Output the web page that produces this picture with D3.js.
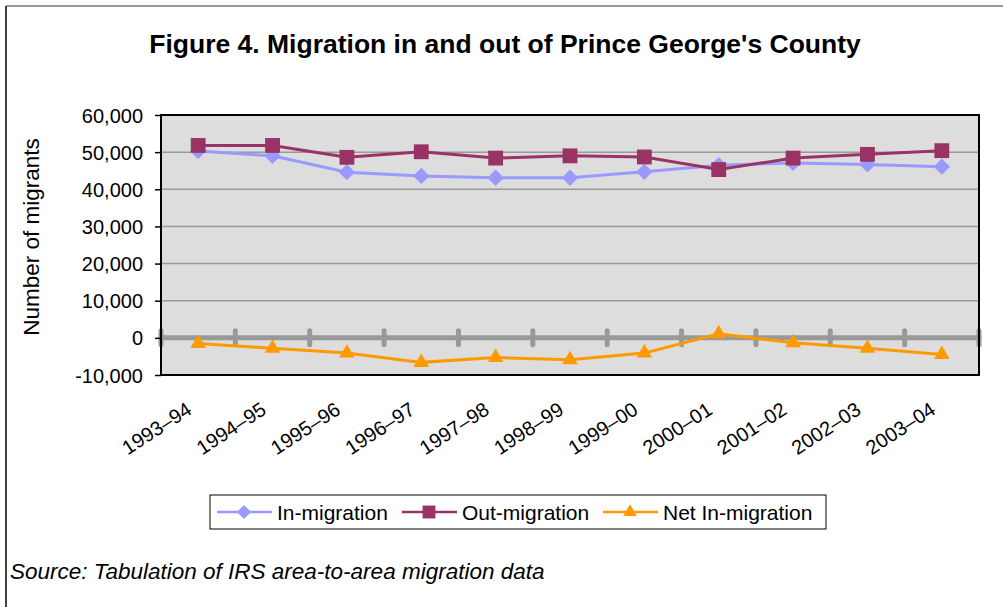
<!DOCTYPE html>
<html>
<head>
<meta charset="utf-8">
<script src="https://cdn.jsdelivr.net/npm/d3@7"></script>
<style>
  body { margin: 0; background: #fff; }
  text { font-family: "Liberation Sans", Arial, sans-serif; fill: #000; }
</style>
</head>
<body>
<div id="chart"></div>
<script>
const categories = ['1993–94', '1994–95', '1995–96', '1996–97', '1997–98', '1998–99',
    '1999–00', '2000–01', '2001–02', '2002–03', '2003–04'];
const inMigration = [50300, 49000, 44600, 43600, 43100, 43100, 44700, 46500, 47100, 46700, 46100];
const outMigration = [51800, 51800, 48600, 50100, 48400, 49000, 48700, 45300, 48400, 49400, 50400];
const netMigration = [-1500, -2800, -4100, -6600, -5300, -5900, -4100, 1100, -1300, -2800, -4500];
const yTicks = [-10000, 0, 10000, 20000, 30000, 40000, 50000, 60000];

const width = 1003;
const height = 607;
const plot = {left: 161, right: 979, top: 115, bottom: 375};

const series = [
    {name: 'In-migration', values: inMigration, color: '#9999ff', symbol: d3.symbolDiamond2, size: 170},
    {name: 'Out-migration', values: outMigration, color: '#993366', symbol: d3.symbolSquare2, size: 280},
    {name: 'Net In-migration', values: netMigration, color: '#ff9900', symbol: d3.symbolTriangle2, size: 175},
];

const svg = d3.select('#chart').append('svg')
    .attr('width', width)
    .attr('height', height);

// outer frame (only top and left show in the picture)
svg.append('line')
    .attr('x1', 6).attr('y1', 6).attr('x2', width).attr('y2', 6)
    .style('stroke', '#999').style('stroke-width', 2);
svg.append('line')
    .attr('x1', 6).attr('y1', 6).attr('x2', 6).attr('y2', height)
    .style('stroke', '#000').style('stroke-width', 1.5);

svg.append('text')
    .attr('x', 505)
    .attr('y', 53)
    .attr('text-anchor', 'middle')
    .style('font-size', '26.5px')
    .style('font-weight', 'bold')
    .text("Figure 4. Migration in and out of Prince George's County");

const x = d3.scaleBand()
    .domain(categories)
    .range([plot.left, plot.right]);
const y = d3.scaleLinear()
    .domain([-10000, 60000])
    .range([plot.bottom, plot.top]);
const cx = d => x(d) + x.bandwidth() / 2;

// plot area
svg.append('rect')
    .attr('x', plot.left)
    .attr('y', plot.top)
    .attr('width', plot.right - plot.left)
    .attr('height', plot.bottom - plot.top)
    .style('fill', '#dddddd');

svg.append('g')
    .selectAll('line')
    .data(yTicks.filter(t => t > 0 && t < 60000))
    .join('line')
    .attr('x1', plot.left).attr('x2', plot.right)
    .attr('y1', d => y(d)).attr('y2', d => y(d))
    .style('stroke', '#9a9a9a')
    .style('stroke-width', 1.5);

// zero axis with category ticks
const zero = svg.append('g').style('stroke', '#999').style('stroke-linecap', 'round');
zero.append('line')
    .attr('x1', plot.left).attr('x2', plot.right)
    .attr('y1', y(0)).attr('y2', y(0))
    .style('stroke-width', 5);
zero.selectAll('.tk')
    .data(d3.range(categories.length + 1))
    .join('line')
    .attr('class', 'tk')
    .attr('x1', i => plot.left + i * x.step())
    .attr('x2', i => plot.left + i * x.step())
    .attr('y1', y(0) - 7).attr('y2', y(0) + 7)
    .style('stroke-width', 5);

svg.append('rect')
    .attr('x', plot.left)
    .attr('y', plot.top)
    .attr('width', plot.right - plot.left)
    .attr('height', plot.bottom - plot.top)
    .style('fill', 'none')
    .style('stroke', '#000')
    .style('stroke-width', 2);

// y axis
const yAxis = svg.append('g')
    .attr('transform', `translate(${plot.left},0)`)
    .call(d3.axisLeft(y)
        .tickValues(yTicks)
        .tickSize(6)
        .tickPadding(12)
        .tickFormat(d => d3.format(',')(d).replace('−', '-')));
yAxis.select('.domain').remove();
yAxis.selectAll('line').style('stroke', '#000').style('stroke-width', 1.5);
yAxis.selectAll('text')
    .style('font-size', '20px')
    .style('font-family', '"Liberation Sans", Arial, sans-serif')
    .attr('dy', '0.35em');

svg.append('text')
    .attr('transform', 'translate(39,237) rotate(-90)')
    .attr('text-anchor', 'middle')
    .style('font-size', '22.5px')
    .text('Number of migrants');

// x labels, slanted
svg.append('g')
    .selectAll('text')
    .data(categories)
    .join('text')
    .attr('transform', d => `translate(${cx(d) - 5},413) rotate(-33)`)
    .attr('text-anchor', 'end')
    .style('font-size', '20px')
    .text(d => d);

// lines and markers
const line = d3.line()
    .x((d, i) => cx(categories[i]))
    .y(d => y(d));

series.forEach(s => {
    const g = svg.append('g');
    g.append('path')
        .datum(s.values)
        .attr('d', line)
        .style('fill', 'none')
        .style('stroke', s.color)
        .style('stroke-width', 3);
    g.selectAll('path.mk')
        .data(s.values)
        .join('path')
        .attr('class', 'mk')
        .attr('transform', (d, i) => `translate(${cx(categories[i])},${y(d)})`)
        .attr('d', d3.symbol(s.symbol, s.size))
        .style('fill', s.color);
});

// legend
const legend = svg.append('g');
legend.append('rect')
    .attr('x', 210).attr('y', 495)
    .attr('width', 616).attr('height', 34)
    .style('fill', '#fff')
    .style('stroke', '#000')
    .style('stroke-width', 1);
const legendX = [217, 402, 603];
series.forEach((s, i) => {
    const g = legend.append('g').attr('transform', `translate(${legendX[i]},512)`);
    g.append('line')
        .attr('x1', 0).attr('x2', 55)
        .style('stroke', s.color)
        .style('stroke-width', 2.5);
    g.append('path')
        .attr('transform', 'translate(27,0)')
        .attr('d', d3.symbol(s.symbol, s.size * 0.75))
        .style('fill', s.color);
    g.append('text')
        .attr('x', 60)
        .attr('y', 8)
        .style('font-size', '21px')
        .text(s.name);
});

svg.append('text')
    .attr('x', 10)
    .attr('y', 579)
    .style('font-size', '22.5px')
    .style('font-style', 'italic')
    .text('Source: Tabulation of IRS area-to-area migration data');
</script>
</body>
</html>
